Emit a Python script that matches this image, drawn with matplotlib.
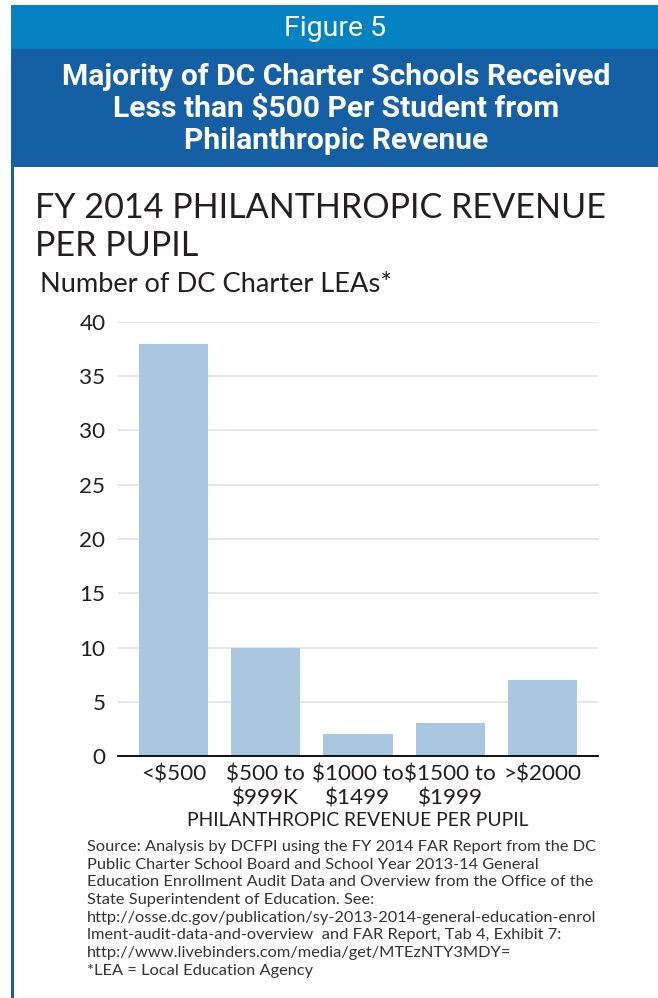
"""Figure 5: FY 2014 philanthropic revenue per pupil, DC charter LEAs."""

import matplotlib.pyplot as plt
from matplotlib.patches import Rectangle

categories = ["<$500", "$500 to\n$999K", "$1000 to\n$1499", "$1500 to\n$1999", ">$2000"]
lea_counts = [38, 10, 2, 3, 7]
y_ticks = [0, 5, 10, 15, 20, 25, 30, 35, 40]

figure_label = "Figure 5"
headline = "Majority of DC Charter Schools Received\nLess than $500 Per Student from\nPhilanthropic Revenue"
chart_title = "FY 2014 PHILANTHROPIC REVENUE\nPER PUPIL"
y_title = "Number of DC Charter LEAs*"
x_title = "PHILANTHROPIC REVENUE PER PUPIL"
source_lines = [
    "Source: Analysis by DCFPI using the FY 2014 FAR Report from the DC",
    "Public Charter School Board and School Year 2013-14 General",
    "Education Enrollment Audit Data and Overview from the Office of the",
    "State Superintendent of Education. See:",
    "http://osse.dc.gov/publication/sy-2013-2014-general-education-enrol",
    "lment-audit-data-and-overview  and FAR Report, Tab 4, Exhibit 7:",
    "http://www.livebinders.com/media/get/MTEzNTY3MDY=",
    "*LEA = Local Education Agency",
]

W, H = 658, 998
BODY_FONT = ["Lato", "DejaVu Sans"]
HEAD_FONT = ["Roboto", "DejaVu Sans"]
TEXT_COLOR = "#231f20"

fig = plt.figure(figsize=(W / 100, H / 100), dpi=100)
fig.patch.set_facecolor("white")


def fx(px):
    return px / W


def fy(py):
    return 1 - py / H


# header bands and left border
fig.patches.append(Rectangle((fx(11), fy(49)), fx(W - 11), 44 / H,
                             transform=fig.transFigure, facecolor="#0482c1", edgecolor="none"))
fig.patches.append(Rectangle((fx(11), fy(167)), fx(W - 11), 118 / H,
                             transform=fig.transFigure, facecolor="#1560a5", edgecolor="none"))
fig.patches.append(Rectangle((fx(11), 0), fx(3), fy(167),
                             transform=fig.transFigure, facecolor="#1a5fa8", edgecolor="none"))

fig.text(fx(335), fy(29), figure_label, color="white", fontsize=20.5,
         family=HEAD_FONT, ha="center", va="center")
fig.text(fx(336), fy(109), headline, color="white", fontsize=21.6, fontweight="bold",
         family=HEAD_FONT, ha="center", va="center", linespacing=1.2)

fig.text(fx(35), fy(227), chart_title, color=TEXT_COLOR, fontsize=24.6,
         family=BODY_FONT, ha="left", va="center", linespacing=1.2)
fig.text(fx(40), fy(284), y_title, color=TEXT_COLOR, fontsize=19.6,
         family=BODY_FONT, ha="left", va="center")

ax = fig.add_axes([fx(118), fy(756), fx(598 - 118), (756 - 322) / H])
x = range(len(categories))
ax.bar(x, lea_counts, width=0.75, color="#a9c7e0", zorder=2)
ax.set_xlim(-0.6, len(categories) - 0.4)
ax.set_ylim(0, 40)
ax.set_yticks(y_ticks)
ax.set_xticks(list(x))
ax.set_xticklabels(categories, linespacing=1.25)
ax.grid(axis="y", color="#e2e2e2", linewidth=1.2, zorder=0)
for side in ["top", "right", "left"]:
    ax.spines[side].set_visible(False)
ax.spines["bottom"].set_color("black")
ax.spines["bottom"].set_linewidth(1.3)
ax.spines["bottom"].set_zorder(3)
ax.tick_params(axis="both", length=0, labelsize=16.2, colors=TEXT_COLOR)
ax.tick_params(axis="y", pad=9)
ax.tick_params(axis="x", pad=6)
for lbl in ax.get_xticklabels() + ax.get_yticklabels():
    lbl.set_family(BODY_FONT)
ax.set_xlabel(x_title, fontsize=13.9, family=BODY_FONT, color=TEXT_COLOR, labelpad=3)

for i, line in enumerate(source_lines):
    fig.text(fx(87), fy(847 + i * 17.7), line, color="#333333", fontsize=11.8,
             family=BODY_FONT, ha="left", va="center")

fig.savefig("out.png", dpi=100)
